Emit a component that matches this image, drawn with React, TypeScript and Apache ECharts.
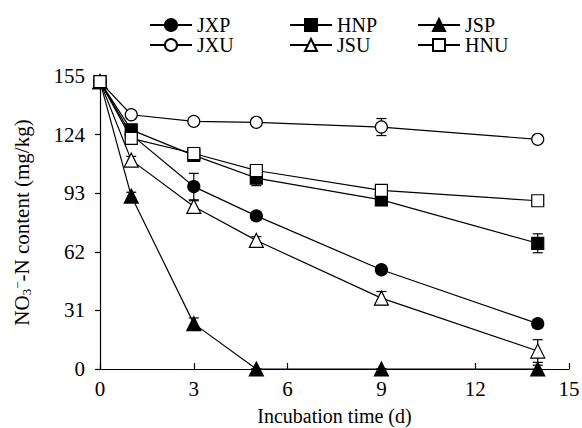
import React, { useEffect, useRef } from "react";
import * as echarts from "echarts";

const days = [0, 1, 3, 5, 9, 14];
const JXP = [152, 124, 96.5, 81, 52.5, 24];
const JXU = [152, 134.5, 131, 130.5, 128, 121.5];
const HNP = [152, 126.5, 113, 101, 89.5, 66.5];
const HNU = [152, 122, 114, 105, 94.5, 89];
const JSU = [152, 110.5, 86, 68, 37.5, 9.5];
const JSP = [152, 91.5, 24, 0, 0, 0];

const JXP_err = [2, 0, 7, 2, 2, 2];
const JXU_err = [2, 1, 1, 1, 4.5, 1];
const HNP_err = [3, 2, 2, 4, 3, 5];
const HNU_err = [3, 1, 1, 1, 1, 1];
const JSU_err = [2, 2, 3, 2, 3.5, 6];
const JSP_err = [2, 2, 3, 0, 0, 2];

const xTicks = [0, 3, 6, 9, 12, 15];
const yTicks = [0, 31, 62, 93, 124, 155];

const FONT = "'Liberation Serif', 'Times New Roman', serif";

type S = { name: string; vals: number[]; err: number[]; symbol: string; filled: boolean; size: number };
const seriesDefs: S[] = [
  { name: "JXP", vals: JXP, err: JXP_err, symbol: "circle", filled: true, size: 12 },
  { name: "JXU", vals: JXU, err: JXU_err, symbol: "circle", filled: false, size: 12 },
  { name: "HNP", vals: HNP, err: HNP_err, symbol: "rect", filled: true, size: 12 },
  { name: "JSU", vals: JSU, err: JSU_err, symbol: "triangle", filled: false, size: 14 },
  { name: "JSP", vals: JSP, err: JSP_err, symbol: "triangle", filled: true, size: 14 },
  { name: "HNU", vals: HNU, err: HNU_err, symbol: "rect", filled: false, size: 12 },
];

export default function App() {
  const ref = useRef<HTMLDivElement>(null);
  useEffect(() => {
    if (!ref.current) return;
    const chart = echarts.init(ref.current, undefined, { renderer: "svg" });
    const errSeries = seriesDefs.map((d) => ({
      type: "custom",
      name: d.name + "_err",
      z: 1,
      silent: true,
      data: days.map((x, i) => [x, d.vals[i] - d.err[i], d.vals[i] + d.err[i]]),
      renderItem: (params: any, api: any) => {
        const x = api.value(0);
        const lo = api.coord([x, api.value(1)]);
        const hi = api.coord([x, api.value(2)]);
        const w = 5;
        const style = { stroke: "#000", lineWidth: 1.2 };
        return {
          type: "group",
          children: [
            { type: "line", shape: { x1: lo[0], y1: lo[1], x2: hi[0], y2: hi[1] }, style },
            { type: "line", shape: { x1: hi[0] - w, y1: hi[1], x2: hi[0] + w, y2: hi[1] }, style },
            { type: "line", shape: { x1: lo[0] - w, y1: lo[1], x2: lo[0] + w, y2: lo[1] }, style },
          ],
        };
      },
    }));
    const lineSeries = seriesDefs.map((d) => ({
      type: "line",
      name: d.name,
      z: 3,
      data: days.map((x, i) => [x, d.vals[i]]),
      symbol: d.symbol,
      symbolSize: d.size,
      showAllSymbol: true,
      lineStyle: { color: "#000", width: 1.2 },
      itemStyle: { color: d.filled ? "#000" : "#fff", borderColor: "#000", borderWidth: 1.2 },
    }));
    const legendBase = {
      orient: "vertical",
      padding: 0,
      itemWidth: 42,
      itemHeight: 15,
      itemGap: 0,
      textStyle: { fontFamily: FONT, fontSize: 20, lineHeight: 19, color: "#000" },
    };
    chart.setOption({
      animation: false,
      backgroundColor: "#fff",
      legend: [
        { ...legendBase, data: ["JXP", "JXU"], left: 149, top: 15 },
        { ...legendBase, data: ["HNP", "JSU"], left: 289, top: 15 },
        { ...legendBase, data: ["JSP", "HNU"], left: 417, top: 15 },
      ],
      grid: { left: 100, right: 13, top: 76, bottom: 59, outerBoundsMode: "none", containLabel: false },
      xAxis: {
        type: "value",
        min: 0,
        max: 15,
        interval: 3,
        name: "Incubation time (d)",
        nameLocation: "middle",
        nameGap: 37,
        nameTextStyle: { fontFamily: FONT, fontSize: 20, color: "#000" },
        axisLine: { lineStyle: { color: "#000", width: 1.2 } },
        axisTick: { inside: true, length: 6, lineStyle: { color: "#000", width: 1.2 } },
        axisLabel: {
          fontFamily: FONT,
          fontSize: 21,
          color: "#000",
          margin: 9,
          formatter: (v: number) => (xTicks.includes(v) ? String(v) : ""),
        },
        splitLine: { show: false },
      },
      yAxis: {
        type: "value",
        min: 0,
        max: 155,
        interval: 31,
        name: "NO{sub|3}{sup|−}-N content (mg/kg)",
        nameLocation: "middle",
        nameGap: 67,
        nameTextStyle: {
          fontFamily: FONT,
          fontSize: 21,
          color: "#000",
          rich: {
            sub: { fontFamily: FONT, fontSize: 13, color: "#000", verticalAlign: "bottom", lineHeight: 22 },
            sup: { fontFamily: FONT, fontSize: 13, color: "#000", verticalAlign: "top", lineHeight: 22 },
          },
        },
        axisLine: { show: true, lineStyle: { color: "#000", width: 1.2 } },
        axisTick: { show: true, inside: false, length: 5, lineStyle: { color: "#000", width: 1.2 } },
        axisLabel: {
          fontFamily: FONT,
          fontSize: 21,
          color: "#000",
          margin: 15,
          formatter: (v: number) => (yTicks.includes(v) ? String(v) : ""),
        },
        splitLine: { show: false },
      },
      series: [...errSeries, ...lineSeries],
    });
    return () => chart.dispose();
  }, []);
  return <div ref={ref} style={{ width: 582, height: 428, position: "absolute", left: 0, top: 0 }} />;
}
